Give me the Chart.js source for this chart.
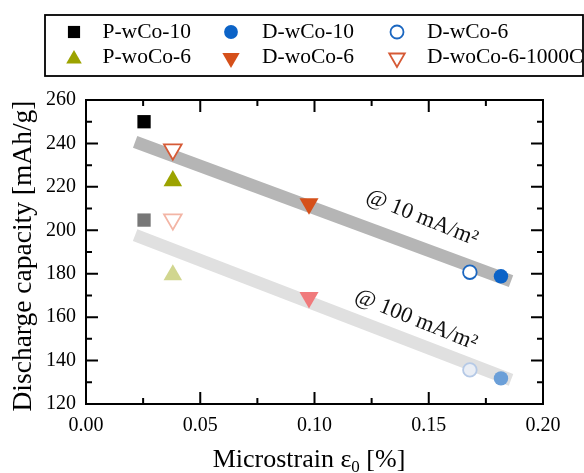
<!DOCTYPE html>
<html><head><meta charset="utf-8">
<script src="https://cdn.jsdelivr.net/npm/chart.js@4.4.1/dist/chart.umd.min.js"></script>
<style>html,body{margin:0;padding:0;background:#fff;}#wrap{width:584px;height:473px;position:relative;}canvas{display:block;}</style>
</head><body><div id="wrap"><canvas id="c" width="584" height="473"></canvas></div>
<script>
// ---- data ----
const sampleNames   = ['P-wCo-10', 'D-wCo-10', 'D-wCo-6', 'P-woCo-6', 'D-woCo-6', 'D-woCo-6-1000C'];
const microstrain   = [0.0254, 0.1816, 0.168, 0.038, 0.0976, 0.038];
const capacityAt10  = [250.0, 178.8, 180.7, 222.8, 212.2, 237.2];   // @ 10 mA/m²
const capacityAt100 = [204.7, 131.8, 135.7, 179.4, 169.0, 205.0];   // @ 100 mA/m²
const trendStrain   = [0.0215, 0.186];
const trend10       = [240.7, 176.6];
const trend100      = [197.8, 131.1];
const trendLabels   = ['@ 10 mA/m²', '@ 100 mA/m²'];
const xAxisTicks    = [0.00, 0.05, 0.10, 0.15, 0.20];
const yAxisTicks    = [120, 140, 160, 180, 200, 220, 240, 260];

// ---- styles ----
const SERIF = "'Liberation Serif','Times New Roman',serif";
const markerStyle   = ['rect', 'circle', 'circle', 'triangle', 'triangle', 'triangle'];
const markerRot     = [0, 0, 0, 0, 180, 180];
const markerRadius  = [9.4, 7.2, 6.8, 10.7, 11, 10.2];
const markerOpen    = [false, false, true, false, false, true];
const fill10   = ['#000000', '#0c63c7', '#ffffff', '#9ca300', '#d5501a', '#ffffff'];
const fill100  = ['#777777', '#6b9fd8', '#eaeef5', '#d1d68f', '#f07a7c', '#ffffff'];
const edge10   = ['#000000', '#0c63c7', '#1a66c0', '#9ca300', '#d5501a', '#d65a36'];
const edge100  = ['#777777', '#6b9fd8', '#b5c9e6', '#d1d68f', '#f07a7c', '#f3b5a5'];
const legendRadius = [8.6, 6.9, 6.5, 9.0, 10.0, 9.0];

const datasets = [];
sampleNames.forEach((name, i) => {
  datasets.push({
    type: 'scatter',
    label: name,
    data: [{x: microstrain[i], y: capacityAt10[i]}, {x: microstrain[i], y: capacityAt100[i]}],
    pointStyle: markerStyle[i],
    rotation: markerRot[i],
    pointRadius: markerRadius[i],
    pointBackgroundColor: [fill10[i], fill100[i]],
    pointBorderColor: [edge10[i], edge100[i]],
    pointBorderWidth: markerOpen[i] ? 1.8 : 0,
    order: 1
  });
});
[trend10, trend100].forEach((arr, k) => {
  datasets.push({
    type: 'line',
    label: trendLabels[k],
    data: trendStrain.map((x, i) => ({x, y: arr[i]})),
    borderColor: k === 0 ? '#b5b5b5' : '#e0e0e0',
    borderWidth: 12.5,
    borderCapStyle: 'butt',
    pointRadius: 0,
    fill: false,
    order: 10
  });
});

const framePlugin = {
  id: 'frame',
  afterDatasetsDraw(chart) {
    const {ctx, chartArea: a, scales: {x, y}} = chart;
    ctx.save();
    ctx.strokeStyle = '#000';
    ctx.lineWidth = 2;
    ctx.beginPath();
    const major = 12, minor = 6;
    for (let i = 0; i < xAxisTicks.length; i++) {
      const px = x.getPixelForValue(xAxisTicks[i]);
      ctx.moveTo(px, a.bottom); ctx.lineTo(px, a.bottom - major);
      ctx.moveTo(px, a.top); ctx.lineTo(px, a.top + major);
      if (i < xAxisTicks.length - 1) {
        const pm = x.getPixelForValue((xAxisTicks[i] + xAxisTicks[i + 1]) / 2);
        ctx.moveTo(pm, a.bottom); ctx.lineTo(pm, a.bottom - minor);
        ctx.moveTo(pm, a.top); ctx.lineTo(pm, a.top + minor);
      }
    }
    for (let i = 0; i < yAxisTicks.length; i++) {
      const py = y.getPixelForValue(yAxisTicks[i]);
      ctx.moveTo(a.left, py); ctx.lineTo(a.left + major, py);
      ctx.moveTo(a.right, py); ctx.lineTo(a.right - major, py);
      if (i < yAxisTicks.length - 1) {
        const pm = y.getPixelForValue((yAxisTicks[i] + yAxisTicks[i + 1]) / 2);
        ctx.moveTo(a.left, pm); ctx.lineTo(a.left + minor, pm);
        ctx.moveTo(a.right, pm); ctx.lineTo(a.right - minor, pm);
      }
    }
    ctx.stroke();
    ctx.strokeRect(a.left, a.top, a.right - a.left, a.bottom - a.top);

    // trend annotations
    ctx.fillStyle = '#111';
    ctx.font = '22.5px ' + SERIF;
    ctx.textAlign = 'center';
    ctx.textBaseline = 'middle';
    const anchors = [[0.147, 205.7], [0.1444, 158.7]];
    trendLabels.forEach((t, k) => {
      ctx.save();
      ctx.translate(x.getPixelForValue(anchors[k][0]), y.getPixelForValue(anchors[k][1]));
      ctx.rotate(22 * Math.PI / 180);
      ctx.fillText(t, 0, 0);
      ctx.restore();
    });

    // axis titles
    ctx.fillStyle = '#000';
    ctx.font = '27.5px ' + SERIF;
    ctx.save();
    ctx.translate(24, (a.top + a.bottom) / 2 + 4);
    ctx.rotate(-Math.PI / 2);
    ctx.textAlign = 'center';
    ctx.textBaseline = 'middle';
    ctx.fillText('Discharge capacity [mAh/g]', 0, 0);
    ctx.restore();

    const p1 = 'Microstrain ε', p2 = '0', p3 = ' [%]';
    ctx.textBaseline = 'alphabetic';
    ctx.textAlign = 'left';
    ctx.font = '26px ' + SERIF;
    const w1 = ctx.measureText(p1).width, w3 = ctx.measureText(p3).width;
    ctx.font = '17px ' + SERIF;
    const w2 = ctx.measureText(p2).width;
    let sx = 309 - (w1 + w2 + w3) / 2;
    const base = 467;
    ctx.font = '26px ' + SERIF;
    ctx.fillText(p1, sx, base);
    ctx.font = '17px ' + SERIF;
    ctx.fillText(p2, sx + w1, base + 5);
    ctx.font = '26px ' + SERIF;
    ctx.fillText(p3, sx + w1 + w2, base);
    ctx.restore();
  },
  afterDraw(chart) {
    const ctx = chart.ctx;
    ctx.save();
    ctx.strokeStyle = '#000';
    ctx.lineWidth = 1.8;
    ctx.strokeRect(45, 15, 538, 61);
    const colMarker = [74, 231, 397];
    const colText = [102.5, 262, 427];
    const rowY = [32, 57];
    ctx.font = '21.5px ' + SERIF;
    ctx.textBaseline = 'middle';
    ctx.textAlign = 'left';
    sampleNames.forEach((name, i) => {
      const r = Math.floor(i / 3), c = i % 3;
      ctx.fillStyle = fill10[i];
      ctx.strokeStyle = edge10[i];
      const opts = {pointStyle: markerStyle[i], rotation: markerRot[i], radius: legendRadius[i], borderWidth: markerOpen[i] ? 1.6 : 0};
      Chart.helpers.drawPoint(ctx, opts, colMarker[c], rowY[r] + (markerStyle[i] === 'triangle' ? (markerRot[i] ? 1 : 2) : 0));
      ctx.fillStyle = '#000';
      ctx.fillText(name, colText[c], rowY[r]);
    });
    ctx.restore();
  }
};

new Chart(document.getElementById('c'), {
  data: {datasets},
  options: {
    responsive: false,
    animation: false,
    events: [],
    layout: {padding: {top: 100, right: 41, bottom: 0, left: 0}},
    plugins: {legend: {display: false}, tooltip: {enabled: false}, title: {display: false}},
    scales: {
      x: {
        type: 'linear', min: 0, max: 0.2,
        afterFit(s) { s.height = 69; },
        afterBuildTicks(s) { s.ticks = xAxisTicks.map(v => ({value: v})); },
        ticks: {callback: v => v.toFixed(2), font: {family: SERIF, size: 20}, color: '#000', padding: 10, maxRotation: 0, autoSkip: false},
        grid: {display: false, drawTicks: false},
        border: {display: false}
      },
      y: {
        type: 'linear', min: 120, max: 260,
        afterFit(s) { s.width = 86; },
        afterBuildTicks(s) { s.ticks = yAxisTicks.map(v => ({value: v})); },
        ticks: {callback: v => String(v), font: {family: SERIF, size: 20}, color: '#000', padding: 10, autoSkip: false},
        grid: {display: false, drawTicks: false},
        border: {display: false}
      }
    }
  },
  plugins: [framePlugin]
});
</script>
</body></html>
